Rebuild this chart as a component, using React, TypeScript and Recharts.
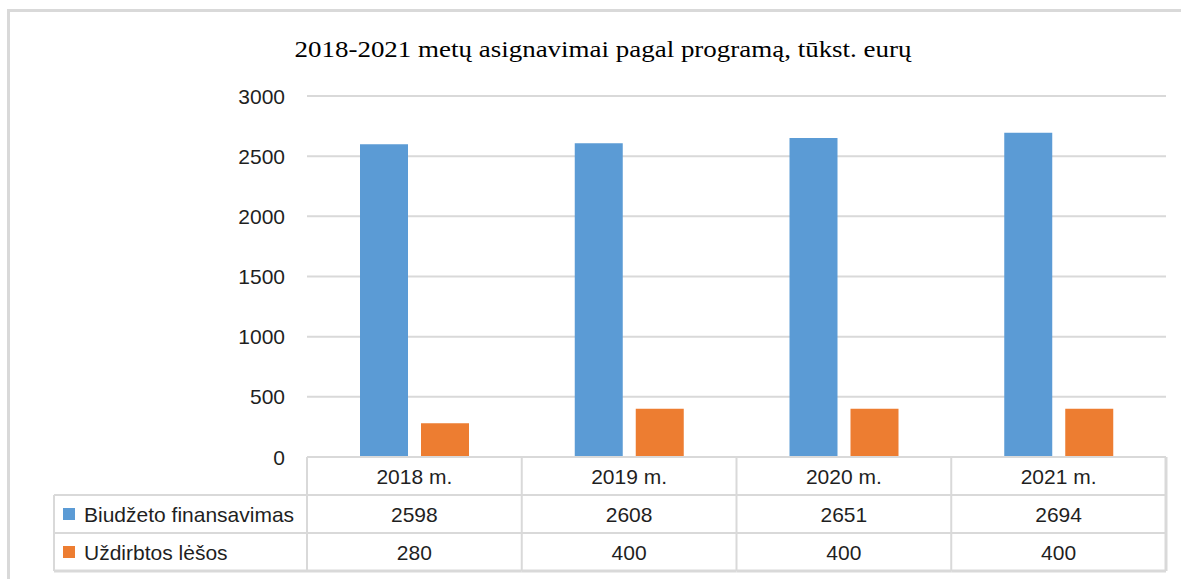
import * as React from "react";
import { BarChart, Bar, XAxis, YAxis, CartesianGrid } from "recharts";

const years = ["2018 m.", "2019 m.", "2020 m.", "2021 m."];
const budget = [2598, 2608, 2651, 2694];
const earned = [280, 400, 400, 400];
const yTicks = [0, 500, 1000, 1500, 2000, 2500, 3000];

const seriesNames = ["Biudžeto finansavimas", "Uždirbtos lėšos"];
const seriesColors = ["#5B9BD5", "#ED7D31"];

const data = years.map((year, i) => ({ year, budget: budget[i], earned: earned[i] }));

const W = 1181;
const H = 579;
const PLOT_LEFT = 307;
const PLOT_RIGHT = 1166;
const ROW_H = 38;
const LABEL_LEFT = 54;
const GRID = "#D9D9D9";
const TEXT = "#1f1f1f";
const SANS = "'Liberation Sans', Arial, sans-serif";

const bandW = (PLOT_RIGHT - PLOT_LEFT) / years.length;

const YTick = ({ x, y, payload }: any) => (
  <text x={x} y={y} dy="0.36em" textAnchor="end" fontSize={21} fontFamily={SANS} fill={TEXT}>
    {payload.value}
  </text>
);

// each x tick draws its column of the data table
const TableTick = ({ x, y, payload, index }: any) => {
  const left = x - bandW / 2;
  const right = x + bandW / 2;
  const rows = [payload.value, String(budget[index]), String(earned[index])];
  return (
    <g>
      {index === 0 && (
        <g>
          <line x1={LABEL_LEFT} x2={left} y1={y + ROW_H} y2={y + ROW_H} stroke={GRID} strokeWidth={2} />
          <line x1={LABEL_LEFT} x2={left} y1={y + ROW_H * 2} y2={y + ROW_H * 2} stroke={GRID} strokeWidth={2} />
          <line x1={LABEL_LEFT} x2={left} y1={y + ROW_H * 3} y2={y + ROW_H * 3} stroke={GRID} strokeWidth={3} />
          <line x1={LABEL_LEFT} x2={LABEL_LEFT} y1={y + ROW_H} y2={y + ROW_H * 3} stroke={GRID} strokeWidth={2} />
          <line x1={left} x2={left} y1={y} y2={y + ROW_H * 3} stroke={GRID} strokeWidth={2} />
          {seriesNames.map((name, i) => (
            <g key={name}>
              <rect x={63} y={y + ROW_H * (i + 1) + 13} width={12} height={12} fill={seriesColors[i]} />
              <text
                x={84}
                y={y + ROW_H * (i + 1.5)}
                dy="0.36em"
                fontSize={21}
                fontFamily={SANS}
                fill={TEXT}
              >
                {name}
              </text>
            </g>
          ))}
        </g>
      )}
      <line x1={right} x2={right} y1={y} y2={y + ROW_H * 3} stroke={GRID} strokeWidth={index === years.length - 1 ? 3 : 2} />
      <line x1={left} x2={right} y1={y + ROW_H} y2={y + ROW_H} stroke={GRID} strokeWidth={2} />
      <line x1={left} x2={right} y1={y + ROW_H * 2} y2={y + ROW_H * 2} stroke={GRID} strokeWidth={2} />
      <line x1={left} x2={right} y1={y + ROW_H * 3} y2={y + ROW_H * 3} stroke={GRID} strokeWidth={3} />
      {rows.map((t, i) => (
        <text
          key={i}
          x={x}
          y={y + ROW_H * (i + 0.5)}
          dy="0.36em"
          textAnchor="middle"
          fontSize={21}
          fontFamily={SANS}
          fill={TEXT}
        >
          {t}
        </text>
      ))}
    </g>
  );
};

export default function App() {
  return (
    <div style={{ position: "absolute", left: 0, top: 0, width: W, height: H, background: "#fff", overflow: "hidden" }}>
      {/* outer frame: only top and left edges fall inside the picture */}
      <div
        style={{
          position: "absolute",
          left: 7,
          top: 9,
          width: W - 7,
          height: H - 9,
          borderTop: `3px solid ${GRID}`,
          borderLeft: `3px solid ${GRID}`,
          boxSizing: "border-box",
        }}
      />
      <BarChart
        width={W}
        height={H}
        data={data}
        margin={{ top: 96, right: W - PLOT_RIGHT, bottom: 7, left: 0 }}
        barSize={48}
        barGap={13}
      >
        <CartesianGrid vertical={false} stroke={GRID} strokeWidth={2} />
        <YAxis
          width={PLOT_LEFT}
          domain={[0, 3000]}
          ticks={yTicks}
          axisLine={false}
          tickLine={false}
          tickSize={0}
          tickMargin={22}
          tick={<YTick />}
          interval={0}
        />
        <XAxis
          dataKey="year"
          height={115}
          axisLine={{ stroke: GRID, strokeWidth: 2 }}
          tickLine={false}
          tickSize={0}
          tickMargin={0}
          tick={<TableTick />}
          interval={0}
        />
        <Bar dataKey="budget" name={seriesNames[0]} fill={seriesColors[0]} isAnimationActive={false} />
        <Bar dataKey="earned" name={seriesNames[1]} fill={seriesColors[1]} isAnimationActive={false} />
      </BarChart>
      <svg width={W} height={H} style={{ position: "absolute", left: 0, top: 0, pointerEvents: "none" }}>
        <text
          x={603}
          y={57}
          textAnchor="middle"
          fontSize={24}
          fontFamily="'Liberation Serif', 'Times New Roman', serif"
          fill="#000"
          textLength={617}
          lengthAdjust="spacingAndGlyphs"
        >
          2018-2021 metų asignavimai pagal programą, tūkst. eurų
        </text>
      </svg>
    </div>
  );
}
